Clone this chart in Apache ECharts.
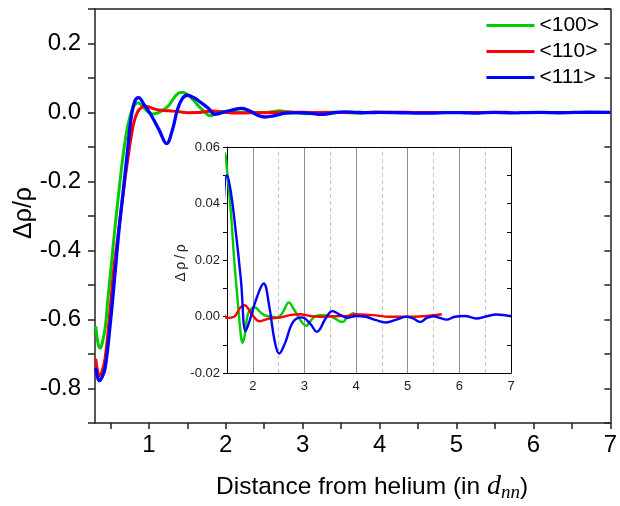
<!DOCTYPE html>
<html>
<head>
<meta charset="utf-8">
<script src="https://cdn.jsdelivr.net/npm/echarts@6/dist/echarts.min.js"></script>
<style>html,body{margin:0;padding:0;background:#fff}#c{width:620px;height:506px}</style>
</head>
<body>
<div id="c"></div>
<script>
// ---- data (x in d_nn, y = Δρ/ρ) ----
var seriesNames = ['<100>', '<110>', '<111>'];
var data100 = [[0.31,-0.62],[0.336,-0.665],[0.364,-0.683],[0.39,-0.672],[0.43,-0.628],[0.47,-0.535],[0.515,-0.435],[0.557,-0.34],[0.6,-0.25],[0.643,-0.165],[0.68,-0.1],[0.72,-0.045],[0.76,-0.008],[0.79,0.012],[0.825,0.024],[0.857,0.028],[0.9,0.022],[0.943,0.012],[1.0,0.0],[1.05,-0.004],[1.1,-0.002],[1.157,0.003],[1.21,0.011],[1.264,0.022],[1.31,0.037],[1.36,0.051],[1.41,0.058],[1.45,0.058],[1.5,0.052],[1.575,0.037],[1.64,0.02],[1.71,0.005],[1.77,-0.007],[1.8,-0.0093],[1.84,-0.007],[1.9,0.0005],[1.97,0.0028],[2.05,0.0032],[2.13,0.0018],[2.22,0.0005],[2.35,0.0],[2.48,-0.0003],[2.58,0.0015],[2.7,0.005],[2.78,0.003],[2.88,0.0],[2.97,-0.0025],[3.04,-0.0033],[3.1,-0.002],[3.2,0.0],[3.3,0.0005],[3.44,0.0004],[3.57,-0.0005],[3.68,-0.0017],[3.74,-0.0019],[3.82,-0.0005],[3.9,0.0008],[3.97,0.0013]];
var data110 = [[0.31,-0.714],[0.33,-0.745],[0.355,-0.763],[0.385,-0.755],[0.43,-0.714],[0.493,-0.58],[0.544,-0.455],[0.6,-0.355],[0.64,-0.28],[0.686,-0.2],[0.75,-0.099],[0.79,-0.045],[0.814,-0.022],[0.85,0.0],[0.878,0.009],[0.943,0.019],[1.0,0.016],[1.093,0.009],[1.2,0.006],[1.306,0.004],[1.4,0.002],[1.5,-0.0005],[1.64,-0.0001],[1.75,0.003],[1.84,0.004],[1.97,0.0011],[2.13,-0.0017],[2.32,-0.0007],[2.52,-0.0004],[2.72,0.0005],[2.91,0.0008],[3.11,0.0002],[3.31,-0.0001],[3.57,0.0001],[3.83,0.0002],[4.0,0.0008],[4.09,0.0007],[4.32,0.0005],[4.65,-0.0001],[4.97,-0.0001],[5.29,0.0001],[5.66,0.0008]];
var data111 = [[0.31,-0.74],[0.33,-0.765],[0.355,-0.777],[0.385,-0.77],[0.43,-0.743],[0.5,-0.609],[0.557,-0.474],[0.61,-0.345],[0.664,-0.235],[0.728,-0.099],[0.77,-0.015],[0.814,0.031],[0.866,0.043],[0.943,0.021],[1.03,-0.008],[1.135,-0.051],[1.23,-0.09],[1.306,-0.051],[1.37,0.007],[1.435,0.04],[1.5,0.05],[1.575,0.044],[1.67,0.03],[1.77,0.0129],[1.86,-0.0052],[1.93,-0.002],[2.06,0.0058],[2.21,0.0117],[2.32,0.0034],[2.42,-0.0084],[2.51,-0.0131],[2.62,-0.0096],[2.78,-0.0019],[2.95,-0.0003],[3.11,-0.0025],[3.24,-0.0054],[3.41,-0.0007],[3.54,0.0019],[3.7,0.0005],[3.83,-0.0005],[4.0,0.0002],[4.19,-0.0001],[4.39,-0.0013],[4.58,-0.0021],[4.78,-0.0011],[4.97,-0.0001],[5.1,-0.0007],[5.25,-0.0019],[5.37,-0.0005],[5.5,0.0001],[5.62,-0.0005],[5.75,-0.0011],[5.91,-0.0001],[6.1,0.0002],[6.33,-0.0007],[6.53,0.0001],[6.72,0.0007],[7.0,0.0001]];
// ---- tick positions ----
var mainXTicks = [0.5, 1, 1.5, 2, 2.5, 3, 3.5, 4, 4.5, 5, 5.5, 6, 6.5, 7];
var mainXLabels = [1, 2, 3, 4, 5, 6, 7];
var insetXLabels = [2, 3, 4, 5, 6, 7];
var insetMajorGrid = [2, 3, 4, 5, 6];
var insetMinorGrid = [2.5, 3.5, 4.5, 5.5, 6.5];
var colors = ['#00cc00', '#ff0000', '#0000ff'];

var chart = echarts.init(document.getElementById('c'), null, {renderer: 'canvas'});
var FONT = '"Liberation Sans", Arial, sans-serif';
var SERIF = '"Liberation Serif", "Times New Roman", serif';

function intLabel(v) {
  var r = Math.round(v);
  return Math.abs(v - r) < 1e-6 ? String(r) : '';
}
function yMainLabel(v) {
  var k = Math.round(v * 10);
  return k % 2 === 0 ? (k / 10).toFixed(1) : '';
}
function yInsetLabel(v) {
  var k = Math.round(v * 100);
  return k % 2 === 0 ? (k / 100).toFixed(2) : '';
}

var mainSeries = [data100, data110, data111].map(function (d, i) {
  return {
    name: seriesNames[i], type: 'line', xAxisIndex: 0, yAxisIndex: 0,
    data: d, smooth: 0.4, showSymbol: false, symbol: 'none',
    lineStyle: {color: colors[i], width: i === 2 ? 3.3 : 3}, itemStyle: {color: colors[i]},
    z: 3 + i
  };
});
var insetSeries = [data100, data110, data111].map(function (d, i) {
  var s = {
    type: 'line', xAxisIndex: 2, yAxisIndex: 2,
    data: d, smooth: 0.4, showSymbol: false, symbol: 'none', clip: true,
    lineStyle: {color: colors[i], width: 2.4}, itemStyle: {color: colors[i]},
    z: 13 + i
  };
  if (i === 0) {
    var ml = [];
    insetMajorGrid.forEach(function (v) { ml.push({xAxis: v, lineStyle: {color: '#8f8f8f', width: 1, type: 'solid'}}); });
    insetMinorGrid.forEach(function (v) { ml.push({xAxis: v, lineStyle: {color: '#c4c4c4', width: 1, type: [4, 3]}}); });
    s.markLine = {silent: true, symbol: 'none', label: {show: false}, animation: false, data: ml, z: 11};
  }
  return s;
});

var option = {
  animation: false,
  backgroundColor: '#fff',
  textStyle: {fontFamily: FONT},
  legend: {
    right: 16, top: 10, orient: 'vertical', itemGap: 5,
    itemWidth: 48, itemHeight: 3, icon: 'rect',
    textStyle: {fontSize: 21, color: '#000', fontFamily: FONT},
    data: seriesNames.map(function (n, i) { return {name: n, icon: 'rect', itemStyle: {color: colors[i]}}; })
  },
  grid: [
    {left: 95, top: 9, right: 3, bottom: 83, show: false},
    {left: 227, top: 147, width: 284, height: 226, show: true, backgroundColor: '#fff', borderWidth: 0, z: 10}
  ],
  xAxis: [
    {gridIndex: 0, type: 'value', min: 0.3, max: 7, position: 'bottom',
      axisLine: {show: true, onZero: false, lineStyle: {color: '#222', width: 1.5}},
      axisTick: {show: true, inside: false, length: 6, customValues: mainXTicks, lineStyle: {color: '#222', width: 1.5}},
      axisLabel: {customValues: mainXLabels, formatter: intLabel, fontSize: 24, color: '#000', margin: 10, fontFamily: FONT},
      splitLine: {show: false}},
    {gridIndex: 0, type: 'value', min: 0.3, max: 7, position: 'top',
      axisLine: {show: true, onZero: false, lineStyle: {color: '#222', width: 1.5}},
      axisTick: {show: false}, axisLabel: {show: false}, splitLine: {show: false}},
    {gridIndex: 1, type: 'value', min: 1.5, max: 7, position: 'bottom',
      axisLine: {show: true, onZero: false, lineStyle: {color: '#000', width: 1}},
      axisTick: {show: false},
      axisLabel: {customValues: insetXLabels, formatter: intLabel, fontSize: 13, color: '#222', margin: 7, fontFamily: FONT},
      splitLine: {show: false}, z: 12},
    {gridIndex: 1, type: 'value', min: 1.5, max: 7, position: 'top',
      axisLine: {show: true, onZero: false, lineStyle: {color: '#000', width: 1}},
      axisTick: {show: false}, axisLabel: {show: false}, splitLine: {show: false}, z: 12}
  ],
  yAxis: [
    {gridIndex: 0, type: 'value', min: -0.9, max: 0.3, interval: 0.1, position: 'left',
      axisLine: {show: true, onZero: false, lineStyle: {color: '#222', width: 1.5}},
      axisTick: {show: true, inside: false, length: 7, lineStyle: {color: '#222', width: 1.5}},
      axisLabel: {formatter: yMainLabel, fontSize: 24, color: '#000', margin: 14, fontFamily: FONT},
      splitLine: {show: false}},
    {gridIndex: 0, type: 'value', min: -0.9, max: 0.3, interval: 0.1, position: 'right',
      axisLine: {show: true, onZero: false, lineStyle: {color: '#222', width: 1.5}},
      axisTick: {show: true, inside: true, length: 6, lineStyle: {color: '#222', width: 1.5}},
      axisLabel: {show: false}, splitLine: {show: false}},
    {gridIndex: 1, type: 'value', min: -0.02, max: 0.06, interval: 0.01, position: 'left',
      axisLine: {show: true, onZero: false, lineStyle: {color: '#000', width: 1}},
      axisTick: {show: true, inside: false, length: 4, lineStyle: {color: '#000', width: 1}},
      axisLabel: {formatter: yInsetLabel, fontSize: 13, color: '#222', margin: 7, fontFamily: FONT},
      splitLine: {show: false}, z: 12},
    {gridIndex: 1, type: 'value', min: -0.02, max: 0.06, interval: 0.01, position: 'right',
      axisLine: {show: true, onZero: false, lineStyle: {color: '#000', width: 1}},
      axisTick: {show: true, inside: true, length: 4, lineStyle: {color: '#000', width: 1}},
      axisLabel: {show: false}, splitLine: {show: false}, z: 12}
  ],
  graphic: [
    {type: 'text', x: 24, y: 213, rotation: Math.PI / 2, z: 50,
      style: {text: 'Δρ/ρ', fontSize: 25, fontFamily: FONT, fill: '#000', textAlign: 'center', textVerticalAlign: 'middle'}},
    {type: 'text', x: 181, y: 263, rotation: Math.PI / 2, z: 50,
      style: {text: 'Δ\u2009ρ\u2009/\u2009ρ', fontSize: 14, fontFamily: FONT, fill: '#222', textAlign: 'center', textVerticalAlign: 'middle'}},
    {type: 'text', x: 216, y: 487, z: 50,
      style: {
        text: 'Distance from helium (in {d|d}{s|nn})',
        textVerticalAlign: 'middle', textAlign: 'left',
        fontSize: 24.5, fontFamily: FONT, fill: '#000',
        rich: {
          d: {fontFamily: SERIF, fontStyle: 'italic', fontSize: 28, fill: '#000'},
          s: {fontFamily: SERIF, fontStyle: 'italic', fontSize: 19, fill: '#000', padding: [12, 0, 0, 0]}
        }
      }}
  ],
  series: mainSeries.concat(insetSeries)
};
chart.setOption(option);
</script>
</body>
</html>
